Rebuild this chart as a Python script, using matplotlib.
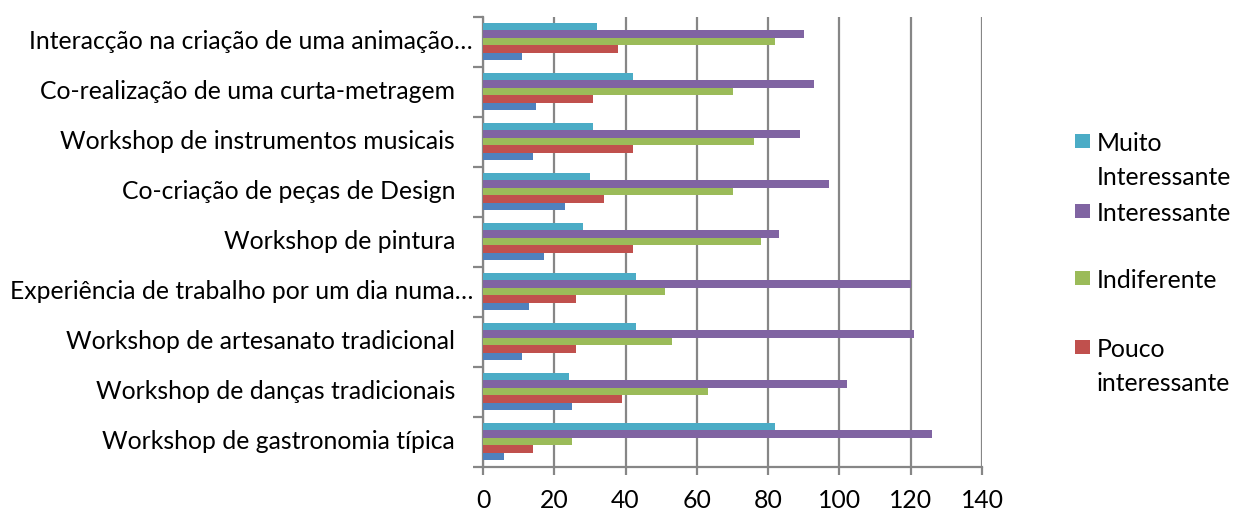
import matplotlib
matplotlib.use("Agg")
import matplotlib.pyplot as plt
import numpy as np
from matplotlib.patches import Rectangle

plt.rcParams['font.family'] = ['Lato', 'DejaVu Sans']

# Activities, listed bottom to top
categories = [
    "Workshop de gastronomia típica",
    "Workshop de danças tradicionais",
    "Workshop de artesanato tradicional",
    "Experiência de trabalho por um dia numa…",
    "Workshop de pintura",
    "Co-criação de peças de Design",
    "Workshop de instrumentos musicais",
    "Co-realização de uma curta-metragem",
    "Interacção na criação de uma animação…",
]

# Series, drawn bottom to top inside each group
series_names = ["Nada interessante", "Pouco\ninteressante", "Indiferente",
                "Interessante", "Muito\nInteressante"]
nada = [6, 25, 11, 13, 17, 23, 14, 15, 11]
pouco = [14, 39, 26, 26, 42, 34, 42, 31, 38]
indiferente = [25, 63, 53, 51, 78, 70, 76, 70, 82]
interessante = [126, 102, 121, 120, 83, 97, 89, 93, 90]
muito = [82, 24, 43, 43, 28, 30, 31, 42, 32]

x_ticks = [0, 20, 40, 60, 80, 100, 120, 140]

series_values = [nada, pouco, indiferente, interessante, muito]
colors = ["#4F81BD", "#C0504D", "#9BBB59", "#8064A2", "#4BACC6"]

FS = 17.8
W, H = 1234, 511
fig = plt.figure(figsize=(W / 100, H / 100), dpi=100)
ax = fig.add_axes([483 / W, 1 - 466.7 / H, (982 - 483) / W, (466.7 - 16.7) / H])

grid_c = "#868686"
lw = 1.6
bar_h = 0.15
y = np.arange(len(categories))
n = len(series_values)
for k, (vals, c) in enumerate(zip(series_values, colors)):
    offs = (k - (n - 1) / 2) * bar_h
    ax.barh(y + offs, vals, height=bar_h, color=c, edgecolor="none", zorder=3)

ax.set_xlim(0, 140)
ax.set_ylim(-0.5, len(categories) - 0.5)
ax.set_xticks(x_ticks)
ax.set_xticklabels([str(t) for t in x_ticks], fontsize=FS)
ax.xaxis.grid(True, color=grid_c, linewidth=lw, zorder=0)
ax.set_axisbelow(True)

# Category boundaries carry the tick marks; labels are drawn separately
ax.set_yticks(np.arange(-0.5, len(categories), 1.0))
ax.set_yticklabels([])
ax.tick_params(axis="y", length=7, width=lw, color=grid_c, direction="out")
ax.tick_params(axis="x", length=6, width=lw, color=grid_c, direction="out", pad=10)

for s in ["top", "right"]:
    ax.spines[s].set_visible(False)
for s in ["left", "bottom"]:
    ax.spines[s].set_color(grid_c)
    ax.spines[s].set_linewidth(lw)

tr = ax.get_yaxis_transform()
for yi, lab in zip(y, categories):
    xoff = -10 / 499 if lab.endswith("…") else -28 / 499
    ax.text(xoff, yi, lab, transform=tr, ha="right", va="center",
            fontsize=FS, color="#000000")

# Legend on the right (entries from the top series down)
leg_order = [4, 3, 2, 1]
leg_y = [140.7, 210.7, 278.0, 347.0]
for k, yp in zip(leg_order, leg_y):
    fig.patches.append(Rectangle((1075 / W, 1 - (yp + 7) / H), 15 / W, 14 / H,
                                 transform=fig.transFigure, facecolor=colors[k],
                                 edgecolor="none"))
    fig.text(1097 / W, 1 - (yp - 9) / H, series_names[k], ha="left", va="top",
             fontsize=FS, linespacing=1.6, color="#000000")

fig.savefig("out.png", dpi=100)
